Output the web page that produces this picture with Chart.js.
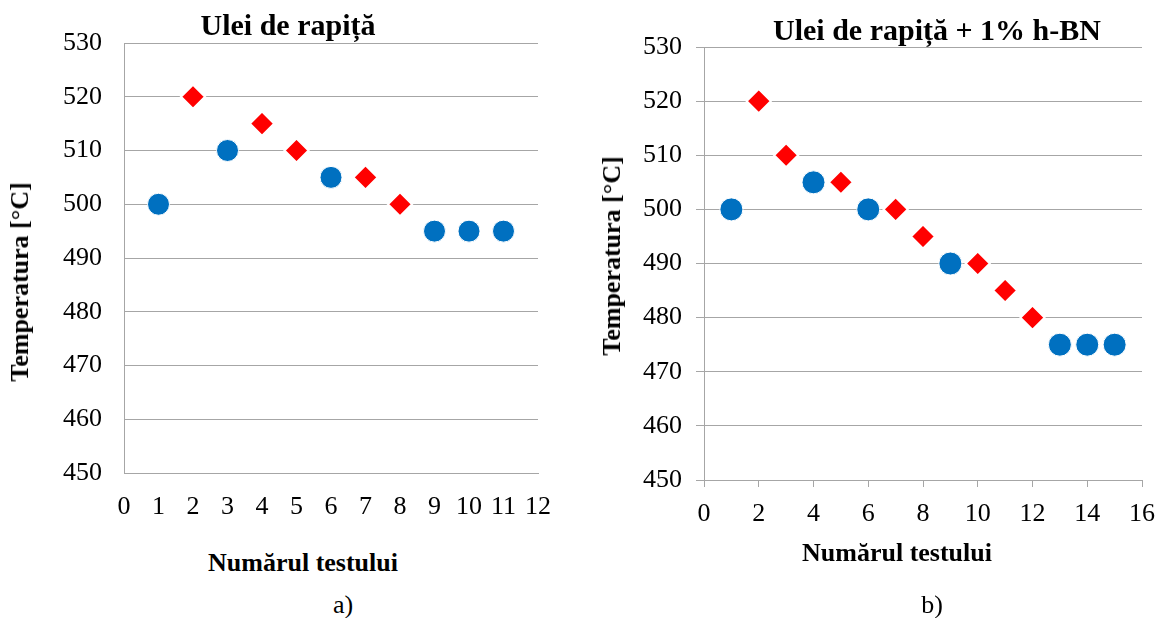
<!DOCTYPE html>
<html>
<head>
<meta charset="utf-8">
<script src="https://cdn.jsdelivr.net/npm/chart.js@4.4.1/dist/chart.umd.min.js"></script>
<style>
    html, body {
        margin: 0;
        padding: 0;
        background: #fff;
    }
    #page {
        position: relative;
        width: 1167px;
        height: 618px;
        overflow: hidden;
        color: #000;
    }
    #page canvas {
        position: absolute;
        top: 0;
    }
    .txt {
        position: absolute;
        white-space: nowrap;
        line-height: 1;
        font-family: "Liberation Serif", "Times New Roman", serif;
        transform: translate(-50%, -50%);
    }
    .titlu { font-size: 30px; font-weight: bold; }
    .axa { font-size: 26px; font-weight: bold; }
    .vert { transform: translate(-50%, -50%) rotate(-90deg); }
    .eticheta { font-size: 26px; }
</style>
</head>
<body>
<div id="page">
    <canvas id="chart-a" width="570" height="540" style="left:0"></canvas>
    <canvas id="chart-b" width="582" height="540" style="left:585px"></canvas>

<script>
(function () {
    "use strict";

    // Temperature axis (same for both charts)
    var tempTicks = [450, 460, 470, 480, 490, 500, 510, 520, 530];

    // a) Ulei de rapiță
    var testTicksA = [0, 1, 2, 3, 4, 5, 6, 7, 8, 9, 10, 11, 12];
    var testA_albastru = [1, 3, 6, 9, 10, 11];
    var tempA_albastru = [500, 510, 505, 495, 495, 495];
    var testA_rosu = [2, 4, 5, 7, 8];
    var tempA_rosu = [520, 515, 510, 505, 500];

    // b) Ulei de rapiță + 1% h-BN
    var testTicksB = [0, 2, 4, 6, 8, 10, 12, 14, 16];
    var testB_albastru = [1, 4, 6, 9, 13, 14, 15];
    var tempB_albastru = [500, 505, 500, 490, 475, 475, 475];
    var testB_rosu = [2, 3, 5, 7, 8, 10, 11, 12];
    var tempB_rosu = [520, 510, 505, 500, 495, 490, 485, 480];


    var blue = "#0070C0";
    var red = "#FF0000";
    var gridColor = "#A6A6A6";
    var serif = "Liberation Serif";

    function points(xs, ys) {
        return xs.map(function (x, i) {
            return { x: x, y: ys[i] };
        });
    }

    function fixedWidth(w) {
        return function (scale) { scale.width = w; };
    }

    function fixedHeight(h) {
        return function (scale) { scale.height = h; };
    }

    function makeChart(id, cfg) {
        return new Chart(document.getElementById(id), {
            type: "scatter",
            data: {
                datasets: [{
                    label: "albastru",
                    data: points(cfg.blueX, cfg.blueY),
                    pointStyle: "circle",
                    pointRadius: cfg.circleRadius,
                    backgroundColor: blue,
                    borderColor: "#fff",
                    borderWidth: 1
                },
                {
                    label: "rosu",
                    data: points(cfg.redX, cfg.redY),
                    pointStyle: "rectRot",
                    pointRadius: 12,
                    backgroundColor: red,
                    borderColor: "#fff",
                    borderWidth: 2
                }]
            },
            options: {
                responsive: false,
                animation: false,
                layout: { padding: cfg.padding },
                plugins: {
                    legend: { display: false },
                    tooltip: { enabled: false }
                },
                scales: {
                    x: {
                        min: cfg.xTicks[0],
                        max: cfg.xTicks[cfg.xTicks.length - 1],
                        afterFit: fixedHeight(cfg.xHeight),
                        ticks: {
                            stepSize: cfg.xTicks[1] - cfg.xTicks[0],
                            color: "#000",
                            font: { family: serif, size: 26 },
                            padding: cfg.xTickPadding,
                            maxRotation: 0,
                            autoSkip: false
                        },
                        grid: {
                            drawOnChartArea: false,
                            drawTicks: cfg.xTickLength > 0,
                            tickLength: cfg.xTickLength,
                            color: gridColor
                        },
                        border: { color: gridColor }
                    },
                    y: {
                        min: tempTicks[0],
                        max: tempTicks[tempTicks.length - 1],
                        afterFit: fixedWidth(cfg.yWidth),
                        ticks: {
                            stepSize: tempTicks[1] - tempTicks[0],
                            color: "#000",
                            font: { family: serif, size: 26 },
                            padding: cfg.yTickPadding
                        },
                        grid: {
                            color: gridColor,
                            drawTicks: cfg.yTickLength > 0,
                            tickLength: cfg.yTickLength
                        },
                        border: { color: gridColor }
                    }
                }
            }
        });
    }

    // a)
    makeChart("chart-a", {
        blueX: testA_albastru, blueY: tempA_albastru,
        redX: testA_rosu, redY: tempA_rosu,
        xTicks: testTicksA,
        circleRadius: 11,
        padding: { top: 43, left: 0, right: 28, bottom: 0 },
        yWidth: 124, yTickPadding: 22, yTickLength: 0,
        xHeight: 67, xTickPadding: 19, xTickLength: 0
    });

    // b)
    makeChart("chart-b", {
        blueX: testB_albastru, blueY: tempB_albastru,
        redX: testB_rosu, redY: tempB_rosu,
        xTicks: testTicksB,
        circleRadius: 11.5,
        padding: { top: 47, left: 0, right: 16, bottom: 0 },
        yWidth: 119, yTickPadding: 14, yTickLength: 8,
        xHeight: 60, xTickPadding: 12, xTickLength: 7
    });

})();
</script>

    <div class="txt titlu" style="left:288px; top:25px">Ulei de rapiță</div>
    <div class="txt axa vert" style="left:20px; top:282px">Temperatura [°C]</div>
    <div class="txt axa" style="left:303px; top:563px">Numărul testului</div>
    <div class="txt eticheta" style="left:343px; top:605px">a)</div>

    <div class="txt titlu" style="left:937px; top:30px">Ulei de rapiță + 1% h-BN</div>
    <div class="txt axa vert" style="left:612px; top:256px">Temperatura [°C]</div>
    <div class="txt axa" style="left:897px; top:553px">Numărul testului</div>
    <div class="txt eticheta" style="left:932px; top:605px">b)</div>
</div>
</body>
</html>
